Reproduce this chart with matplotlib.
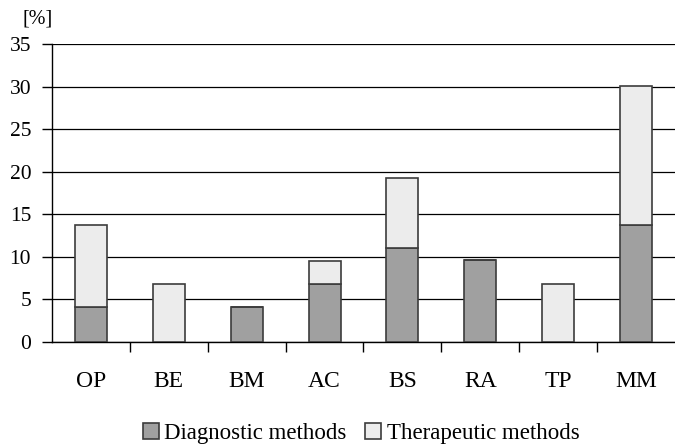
import matplotlib
matplotlib.use("Agg")
import matplotlib.pyplot as plt
import numpy as np

categories = ["OP", "BE", "BM", "AC", "BS", "RA", "TP", "MM"]
diagnostic = [4.1, 0.0, 4.1, 6.8, 11.0, 9.6, 0.0, 13.7]
therapeutic = [9.6, 6.8, 0.0, 2.7, 8.2, 0.0, 6.8, 16.4]
yticks = [0, 5, 10, 15, 20, 25, 30, 35]

plt.rcParams['font.family'] = ['Liberation Serif', 'DejaVu Serif']

fig = plt.figure(figsize=(6.75, 4.44), dpi=100)
ax = fig.add_axes([0.077, 0.23, 0.923, 0.671])

x = np.arange(len(categories))
w = 0.41
edge = "#3c3c3c"
ax.bar(x, diagnostic, w, color="#a0a0a0", edgecolor=edge, linewidth=1.2,
       label="Diagnostic methods", zorder=3)
ax.bar(x, therapeutic, w, bottom=diagnostic, color="#ececec", edgecolor=edge,
       linewidth=1.2, label="Therapeutic methods", zorder=3)

ax.set_xlim(-0.5, len(categories) - 0.5)
ax.set_ylim(0, 35)
ax.set_yticks(yticks)
ax.set_yticklabels([str(t) for t in yticks], fontsize=15.5)
ax.yaxis.grid(True, color="black", linewidth=0.9, zorder=0)
ax.set_axisbelow(True)

ax.set_xticks(x)
ax.set_xticklabels(categories, fontsize=17)
ax.tick_params(axis='x', length=0, pad=21)
ax.set_xticks(x[:-1] + 0.5, minor=True)
ax.tick_params(axis='x', which='minor', length=7, width=1, color="black")
ax.tick_params(axis='y', length=7, width=1, pad=8)

for s in ["top", "right"]:
    ax.spines[s].set_visible(False)
ax.spines["left"].set_linewidth(1)
ax.spines["bottom"].set_linewidth(1)

fig.text(0.033, 0.958, "[%]", fontsize=14.5, ha="left", va="center")

handles, labels = ax.get_legend_handles_labels()
fig.legend(handles, labels, loc="center", bbox_to_anchor=(0.535, 0.024),
           ncol=2, frameon=False, fontsize=16.5, handlelength=0.7,
           handleheight=0.7, handletextpad=0.25, columnspacing=0.8)

fig.savefig("out.png", dpi=100)
